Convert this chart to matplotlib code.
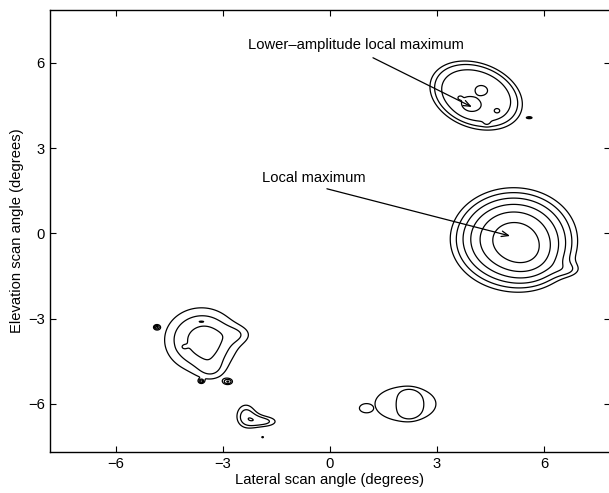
import numpy as np
import matplotlib
matplotlib.use("Agg")
import matplotlib.pyplot as plt

plt.rcParams['font.family'] = ['Liberation Sans', 'DejaVu Sans']

# Return components of the scan, linear power relative to the main return
# (centre in degrees, amplitude, spreads along/across, tilt in degrees,
#  shape order, and which return the component belongs to)
src_x = [5.15, 5.65, 6.75,
         4.10, 3.90, 4.26, 4.70, 4.40, 3.64, 5.60,
         -3.60, -3.40, -2.50, -3.30, -4.85, -4.10, -3.60, -3.60, -2.85,
         2.12, 2.25, 2.16, 1.03,
         -2.35, -1.75, -1.88]
src_y = [-0.20, -1.00, -1.30,
         4.85, 4.45, 5.05, 4.30, 3.88, 4.77, 4.07,
         -3.75, -3.90, -3.55, -4.85, -3.30, -4.00, -3.10, -5.20, -5.22,
         -6.00, -6.02, -5.75, -6.15,
         -6.40, -6.62, -7.17]
src_amp = [1.00, 0.15, 0.12,
           0.54, 0.05, 0.04, 0.08, 0.06, 0.03, 0.28,
           0.46, 0.06, 0.10, 0.10, 0.285, 0.05, 0.05, 0.285, 0.29,
           0.33, 0.10, 0.03, 0.33,
           0.37, 0.32, 0.285]
src_sa = [1.10, 0.60, 0.30,
          1.30, 0.22, 0.12, 0.08, 0.07, 0.05, 0.07,
          1.00, 0.30, 0.35, 0.30, 0.06, 0.08, 0.10, 0.05, 0.10,
          0.96, 0.20, 0.08, 0.32,
          0.30, 0.35, 0.04]
src_sb = [1.12, 0.60, 0.20,
          1.00, 0.22, 0.12, 0.08, 0.07, 0.05, 0.03,
          1.10, 0.45, 0.25, 0.30, 0.06, 0.08, 0.03, 0.05, 0.08,
          0.68, 0.36, 0.03, 0.26,
          0.45, 0.20, 0.04]
src_tilt = [0, 0, 0,
            -38, 0, 0, 0, 0, 0, 0,
            0, 0, 0, 0, 0, 0, 0, 0, 0,
            0, 0, 0, 0,
            0, 0, 0]
src_order = [1, 1, 1,
             2, 1, 1, 1, 1, 1, 1,
             1, 1, 1, 1, 1, 1, 1, 1, 1,
             4, 1, 1, 1,
             1, 1, 1]
src_group = [0, 0, 0,
             1, 1, 1, 1, 1, 1, 1,
             2, 2, 2, 2, 2, 2, 2, 2, 2,
             3, 3, 3, 4,
             5, 5, 5]

noise_floor = 0.01
levels_db = [-5.5, -4.5, -3.5, -2.5, -1.5, -0.5]

x = np.linspace(-8, 8, 801)
y = np.linspace(-8, 8, 801)
X, Y = np.meshgrid(x, y)

groups = {}
for cx, cy, a, sa, sb, t, n, g in zip(src_x, src_y, src_amp, src_sa, src_sb,
                                      src_tilt, src_order, src_group):
    th = np.deg2rad(t)
    u = (X - cx) * np.cos(th) + (Y - cy) * np.sin(th)
    v = -(X - cx) * np.sin(th) + (Y - cy) * np.cos(th)
    q = (u / sa) ** 2 + (v / sb) ** 2
    groups[g] = groups.get(g, 0) + a * np.exp(-0.5 * q ** n)

P = noise_floor + np.max(np.stack(list(groups.values())), axis=0)
Z = 10 * np.log10(P)

fig = plt.figure(figsize=(6.09, 4.93), dpi=100)
ax = fig.add_axes([0.0813, 0.0838, 0.9204, 0.8959])

ax.contour(X, Y, Z, levels=levels_db, colors='k', linewidths=0.9,
           linestyles='solid')

fs = 10.6
ax.set_xlim(-7.85, 7.85)
ax.set_ylim(-7.68, 7.86)
ax.set_xticks([-6, -3, 0, 3, 6])
ax.set_yticks([-6, -3, 0, 3, 6])
ax.tick_params(direction='in', length=4, width=0.8, labelsize=fs,
               top=True, right=True)
for s in ax.spines.values():
    s.set_linewidth(1.0)

ax.set_xlabel('Lateral scan angle (degrees)', fontsize=fs, labelpad=2)
ax.set_ylabel('Elevation scan angle (degrees)', fontsize=fs, labelpad=3)

arrow = dict(arrowstyle='->,head_length=0.5,head_width=0.2', lw=0.9, color='k',
             shrinkA=0, shrinkB=0)
ax.text(-2.3, 6.63, 'Lower\u2013amplitude local maximum', fontsize=fs,
        va='center', ha='left')
ax.annotate('', xy=(3.98, 4.45), xytext=(1.21, 6.18), arrowprops=arrow)
ax.text(-1.9, 1.95, 'Local maximum', fontsize=fs, va='center', ha='left')
ax.annotate('', xy=(5.05, -0.09), xytext=(-0.08, 1.57), arrowprops=arrow)

fig.savefig('out.png', dpi=100)
